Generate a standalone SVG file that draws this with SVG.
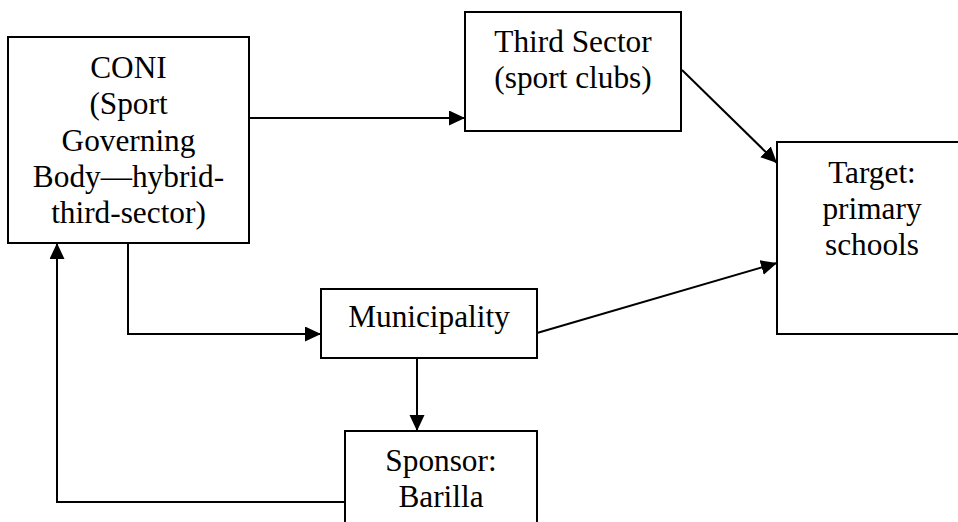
<svg xmlns="http://www.w3.org/2000/svg" width="958" height="522" viewBox="0 0 958 522">
<style>
.box{fill:#fff;stroke:#000;stroke-width:2}
.t{font-family:"Liberation Serif","Times New Roman",serif;font-size:31.3px;fill:#000;text-anchor:middle}
.c{fill:none;stroke:#000;stroke-width:2;marker-end:url(#ah)}
</style>
<defs>
<marker id="ah" markerUnits="userSpaceOnUse" markerWidth="17" markerHeight="16" refX="16" refY="7.5" orient="auto" viewBox="0 0 17 16">
<path d="M0,0 L16,7.5 L0,15 z" fill="#000"/>
</marker>
</defs>
<rect width="958" height="522" fill="#fff"/>
<g id="connectors">
<path class="c" d="M249,118 H465"/>
<path class="c" d="M682,70 L777,163"/>
<path class="c" d="M537,333 L777,263"/>
<path class="c" d="M128,243 V334 H321"/>
<path class="c" d="M417,358 V431"/>
<path class="c" d="M345,502 H57 V243"/>
</g>
<g id="coni">
<rect class="box" x="8" y="37" width="241" height="206"/>
<text class="t" x="128.5" y="78">CONI</text>
<text class="t" x="128.5" y="114">(Sport</text>
<text class="t" x="128.5" y="151">Governing</text>
<text class="t" x="128.5" y="187">Body—hybrid-</text>
<text class="t" x="128.5" y="223">third-sector)</text>
</g>
<g id="third-sector">
<rect class="box" x="465" y="12" width="216" height="119"/>
<text class="t" x="573" y="52">Third Sector</text>
<text class="t" x="573" y="88">(sport clubs)</text>
</g>
<g id="target">
<rect class="box" x="777" y="142" width="190" height="192"/>
<text class="t" x="872" y="183">Target:</text>
<text class="t" x="872" y="219">primary</text>
<text class="t" x="872" y="255">schools</text>
</g>
<g id="municipality">
<rect class="box" x="321" y="289" width="216" height="69"/>
<text class="t" x="429" y="327">Municipality</text>
</g>
<g id="sponsor">
<rect class="box" x="345" y="431" width="192" height="100"/>
<text class="t" x="441" y="471">Sponsor:</text>
<text class="t" x="441" y="507">Barilla</text>
</g>
</svg>
